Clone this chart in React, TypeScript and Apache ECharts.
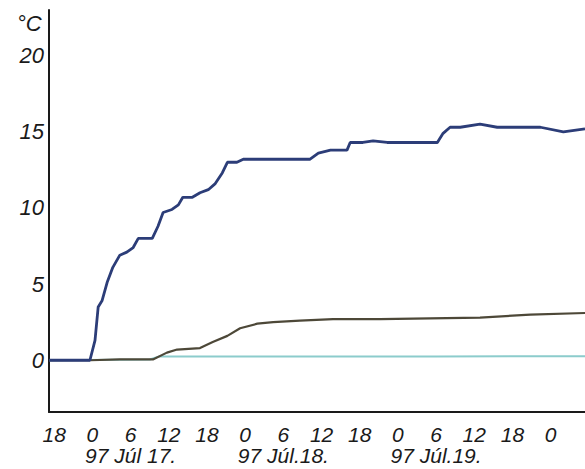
import React, { useEffect, useRef } from "react";
import * as echarts from "echarts";

// Hours counted from Jul 16, 18:00
const tickHours = [0, 6, 12, 18, 24, 30, 36, 42, 48, 54, 60, 66, 72, 78];
const tickLabels = ["18", "0", "6", "12", "18", "0", "6", "12", "18", "0", "6", "12", "18", "0"];
const dayLabels: Record<number, string> = { 12: "97 Júl 17.", 36: "97 Júl.18.", 60: "97 Júl.19." };

const yTicks = [0, 5, 10, 15, 20];

// [hour, °C]
const blueSeries: [number, number][] = [
  [-0.8, 0], [5.6, 0], [6.4, 1.3], [6.9, 3.5], [7.5, 3.9], [8.3, 5.1], [9.2, 6.1],
  [10.3, 6.9], [11.4, 7.1], [12.4, 7.4], [13.2, 8.0], [15.4, 8.0], [16.3, 8.8],
  [17.1, 9.7], [18.5, 9.9], [19.5, 10.2], [20.2, 10.7], [21.7, 10.7], [22.9, 11.0],
  [24.2, 11.2], [25.3, 11.6], [26.4, 12.3], [27.2, 13.0], [28.7, 13.0], [29.7, 13.2],
  [40.2, 13.2], [41.5, 13.6], [43.4, 13.8], [46.0, 13.8], [46.5, 14.3], [48.5, 14.3],
  [50.1, 14.4], [52.3, 14.3], [60.2, 14.3], [61.1, 14.9], [62.2, 15.3], [63.8, 15.3],
  [66.9, 15.5], [69.6, 15.3], [76.4, 15.3], [80.0, 15.0], [83.4, 15.2],
];

const brownSeries: [number, number][] = [
  [-0.8, 0], [5.6, 0], [10.3, 0.05], [15.5, 0.05], [17.7, 0.5], [19.3, 0.7],
  [22.9, 0.8], [24.9, 1.2], [27.2, 1.6], [29.2, 2.1], [31.9, 2.4], [34.4, 2.5],
  [38.6, 2.6], [43.8, 2.7], [51.2, 2.7], [66.9, 2.8], [74.8, 3.0], [83.4, 3.1],
];

const cyanSeries: [number, number][] = [
  [-0.8, 0], [15.0, 0.05], [16.5, 0.25], [40.0, 0.25], [60.0, 0.25], [83.4, 0.26],
];

const FONT = "Liberation Sans";

export default function App() {
  const ref = useRef<HTMLDivElement>(null);
  useEffect(() => {
    document.body.style.margin = "0";
    if (!ref.current) return;
    const chart = echarts.init(ref.current, null, { renderer: "svg" });
    chart.setOption({
      animation: false,
      backgroundColor: "#ffffff",
      grid: { left: 49, right: 0, top: 10, bottom: 57 },
      graphic: [
        {
          type: "text",
          left: 17,
          top: 12,
          style: { text: "°C", font: `italic 22px "${FONT}"`, fill: "#1a1a1a" },
        },
      ],
      xAxis: {
        type: "value",
        min: -0.83,
        max: 83.4,
        axisLine: { show: true, onZero: false, lineStyle: { color: "#1a1a1a", width: 2 } },
        axisTick: { show: false },
        splitLine: { show: false },
        axisLabel: {
          customValues: tickHours,
          margin: 12,
          color: "#1a1a1a",
          fontFamily: FONT,
          fontStyle: "italic",
          fontSize: 21,
          lineHeight: 21,
          formatter: (v: number) => {
            const i = tickHours.indexOf(Math.round(v));
            const lbl = i >= 0 ? tickLabels[i] : "";
            const d = dayLabels[Math.round(v)];
            return d ? `${lbl}\n${d}` : lbl;
          },
        },
      },
      yAxis: {
        type: "value",
        min: -3.4,
        max: 23,
        axisLine: { show: true, onZero: false, lineStyle: { color: "#1a1a1a", width: 2 } },
        axisTick: { show: false },
        splitLine: { show: false },
        axisLabel: {
          customValues: yTicks,
          margin: 5,
          color: "#1a1a1a",
          fontFamily: FONT,
          fontStyle: "italic",
          fontSize: 22,
        },
      },
      series: [
        {
          type: "line",
          data: cyanSeries,
          showSymbol: false,
          lineStyle: { color: "#8ccccc", width: 2 },
          z: 1,
        },
        {
          type: "line",
          data: brownSeries,
          showSymbol: false,
          lineStyle: { color: "#4d4838", width: 2.2 },
          z: 2,
        },
        {
          type: "line",
          data: blueSeries,
          showSymbol: false,
          lineStyle: { color: "#2c3d78", width: 2.8 },
          z: 3,
        },
      ],
    });
    return () => chart.dispose();
  }, []);
  return <div ref={ref} style={{ width: 585, height: 469 }} />;
}
